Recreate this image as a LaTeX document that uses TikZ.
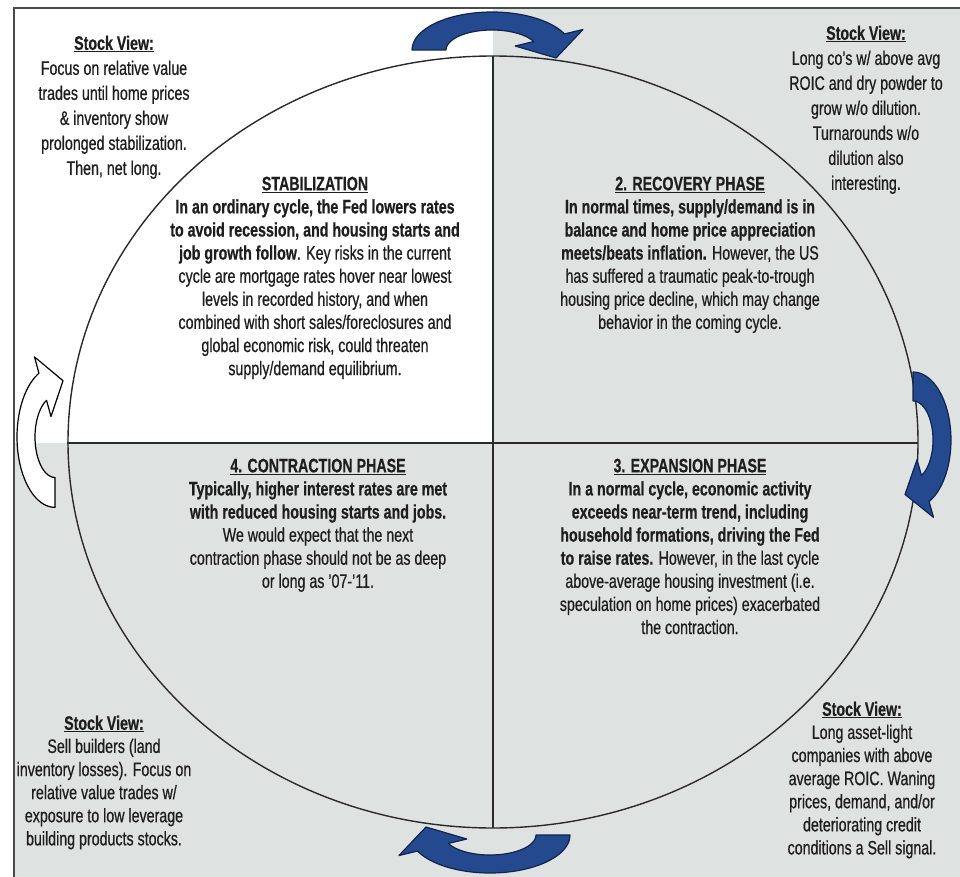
\documentclass[tikz,border=0pt]{standalone}
\usepackage{fontspec}
\setmainfont{Liberation Sans}[FakeStretch=0.73,
  UprightFeatures={FakeBold=0.6}, BoldFeatures={FakeBold=0.5}]

\definecolor{quadgrey}{HTML}{DEE3E2}
\definecolor{ink}{HTML}{1E1E1E}
\definecolor{arrowblue}{HTML}{24498E}
\definecolor{arrowedge}{HTML}{10244D}
\definecolor{rulecol}{HTML}{2A2A2A}
\definecolor{framegrey}{HTML}{4A4A4A}

\newcommand\hd[1]{\textbf{\underline{#1}}}

\tikzset{
  txt/.style={align=center, inner sep=0pt, text=ink, anchor=north,
    font=\fontsize{19.5}{23.1}\selectfont},
  viewtxt/.style={txt, font=\fontsize{19.5}{25}\selectfont},
  cyc arrow/.pic={
    \path[pic actions]
      plot[smooth, domain=180:25, samples=24] ({80*cos(\x)},{-38*sin(\x)})
      -- (91,-20.5) -- (64,8) -- (23.2,-4)
      -- plot[smooth, domain=25:180, samples=24] ({46*cos(\x)},{-20*sin(\x)})
      -- cycle;
  },
  blue arrow/.style={fill=arrowblue, draw=arrowedge, line width=1.2pt, line join=round},
  white arrow/.style={fill=white, draw=black, line width=1.2pt, line join=round},
  divider/.style={draw=rulecol, line width=1.4pt},
}

\begin{document}
\begin{tikzpicture}[x=1pt,y=-1pt]
\useasboundingbox (0,0) rectangle (960,877);
\clip (0,0) rectangle (960,877);

% background and quadrant shading
\fill[white] (0,0) rectangle (960,877);
\fill[quadgrey] (493,8) rectangle (960,877);
\fill[quadgrey] (14,443) rectangle (493,877);
\draw[framegrey, line width=2.6pt] (14,877) -- (14,8) -- (960,8);

% cycle ellipse and quadrant dividers
\draw[divider] (493,442) ellipse [x radius=425, y radius=386];
\draw[divider] (493,56) -- (493,828);
\draw[divider] (67,443) -- (918,443);

% cycle arrows
\pic[blue arrow] at (492,50) {cyc arrow};
\pic[blue arrow, rotate=180] at (490,835) {cyc arrow};
\pic[white arrow, rotate=90, xscale=0.88] at (55,437) {cyc arrow};
\pic[blue arrow, rotate=-90, xscale=0.85] at (913,440) {cyc arrow};

% corner stock views
\node[viewtxt] (viewTL) at (114,35.5) {\hd{Stock View:}\\Focus on relative value\\trades until home prices\\\& inventory show\\prolonged stabilization.\\Then, net long.};
\node[viewtxt] (viewTR) at (866,25.5) {\hd{Stock View:}\\Long co's w/ above avg\\ROIC and dry powder to\\grow w/o dilution.\\Turnarounds w/o\\dilution also\\interesting.};
\node[txt] (viewBL) at (104,715.5) {\hd{Stock View:}\\Sell builders (land\\inventory losses). Focus on\\relative value trades w/\\exposure to low leverage\\building products stocks.};
\node[txt] (viewBR) at (862,701.5) {\hd{Stock View:}\\Long asset-light\\companies with above\\average ROIC. Waning\\prices, demand, and/or\\deteriorating credit\\conditions a Sell signal.};

% phase descriptions
\node[txt] (stab) at (315,176.5) {\hd{STABILIZATION}\\
\textbf{In an ordinary cycle, the Fed lowers rates}\\
\textbf{to avoid recession, and housing starts and}\\
\textbf{job growth follow}. Key risks in the current\\
cycle are mortgage rates hover near lowest\\
levels in recorded history, and when\\
combined with short sales/foreclosures and\\
global economic risk, could threaten\\
supply/demand equilibrium.};
\node[txt] (recov) at (690,176.5) {\hd{2. RECOVERY PHASE}\\
\textbf{In normal times, supply/demand is in}\\
\textbf{balance and home price appreciation}\\
\textbf{meets/beats inflation.} However, the US\\
has suffered a traumatic peak-to-trough\\
housing price decline, which may change\\
behavior in the coming cycle.};
\node[txt] (contr) at (318,458.5) {\hd{4. CONTRACTION PHASE}\\
\textbf{Typically, higher interest rates are met}\\
\textbf{with reduced housing starts and jobs.}\\
We would expect that the next\\
contraction phase should not be as deep\\
or long as '07-'11.};
\node[txt] (expan) at (690,458.5) {\hd{3. EXPANSION PHASE}\\
\textbf{In a normal cycle, economic activity}\\
\textbf{exceeds near-term trend, including}\\
\textbf{household formations, driving the Fed}\\
\textbf{to raise rates.} However, in the last cycle\\
above-average housing investment (i.e.\\
speculation on home prices) exacerbated\\
the contraction.};
\end{tikzpicture}
\end{document}
